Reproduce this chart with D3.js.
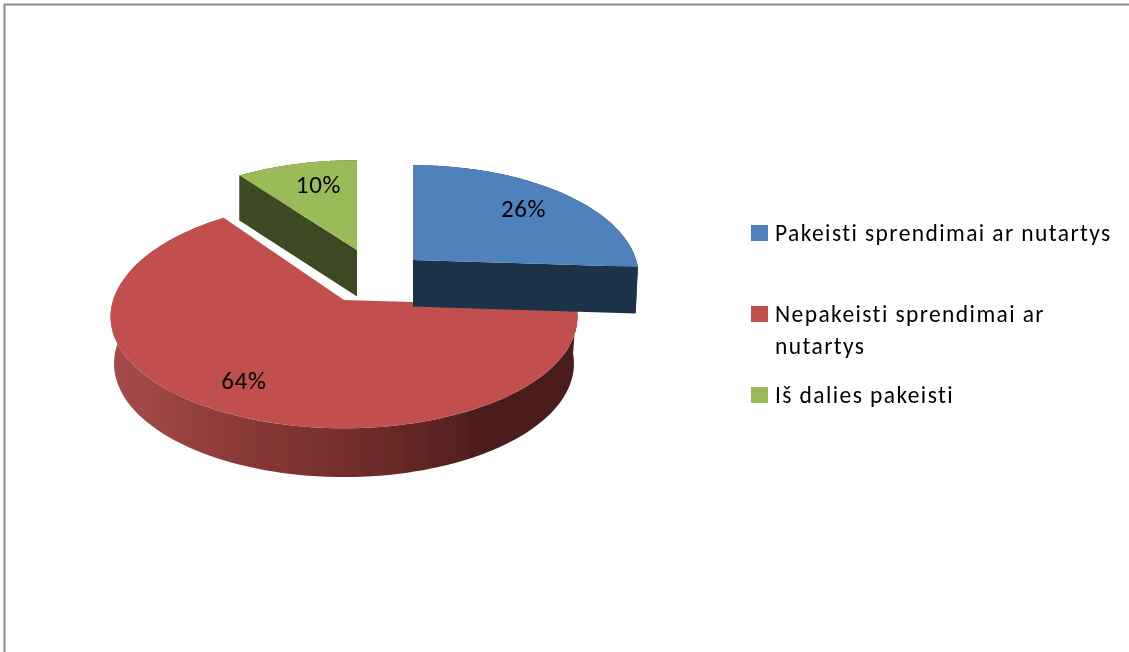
<!DOCTYPE html>
<html><head><meta charset="utf-8">
<script src="https://cdn.jsdelivr.net/npm/d3@7"></script>
<style>html,body{margin:0;padding:0;background:#fff;overflow:hidden}svg{display:block}text{font-family:Carlito,Lato,"Open Sans",sans-serif;fill:#000}</style>
</head><body><svg id="c" width="1129" height="652"></svg>
<script>
const categories = ["Pakeisti sprendimai ar nutartys","Nepakeisti sprendimai ar nutartys","Iš dalies pakeisti"];
const values = [26,64,10];
const valueLabels = ["26%","64%","10%"];
const topColors = ["#4f81bd","#c0504d","#9bbb59"];
const wallColors = ["#1c3149","#4c1d1b","#3e4a20"];
const legendLines = [["Pakeisti sprendimai ar nutartys"],["Nepakeisti sprendimai ar","nutartys"],["Iš dalies pakeisti"]];

const W=1129,H=652;
const svg=d3.select("#c");
const defs=svg.append("defs");
defs.append("filter").attr("id","soft").attr("x","-5%").attr("y","-5%").attr("width","110%").attr("height","110%")
  .append("feGaussianBlur").attr("stdDeviation",.45);
svg.append("path").attr("d",`M4.5,${H}V4.5H${W}`).attr("fill","none").attr("stroke","#8c8c8c").attr("stroke-width",2);
const root=svg.append("g").attr("filter","url(#soft)");

// layout of the exploded slices (style)
const apex=[
  {x:413,y:260,kx:.962,k:1,back:1,t:.7,lx:0,ly:-2,taper:.99},
  {x:344,y:300,kx:.995,k:1,back:1.05,t:.78,lx:-3,ly:-2,taper:.985},
  {x:357,y:250,kx:1,k:.96,back:.98,t:.7,lx:7,ly:1,taper:1}];
const R=232,Ry=109,persp=.15,depth=46.5;
const project=(a,r,cen)=>{
  const X=Math.sin(a)*r*cen.k*cen.kx;
  let Yf=-Math.cos(a)*r*cen.k;
  if(Yf<0) Yf*=cen.back;
  const s=1/(1-persp*Yf);
  return {x:cen.x+R*X*s,y:cen.y+Ry*Yf*s,s};
};
const down=(p,cen)=>({x:cen.x+(p.x-cen.x)*cen.taper,y:p.y+depth*Math.pow(p.s,.3)});
const line=d3.line().x(d=>d.x).y(d=>d.y);

const arcs=d3.pie().sort(null).startAngle(0).endAngle(2*Math.PI)(values);
const grad=defs.append("linearGradient").attr("id","redWall").attr("gradientUnits","userSpaceOnUse")
  .attr("x1",apex[1].x-R).attr("x2",apex[1].x+R).attr("y1",0).attr("y2",0);
[[0,"#a64c4a"],[.35,"#843533"],[.6,"#6a2a28"],[.8,"#4c1d1b"],[1,"#4c1d1b"]].forEach(s=>grad.append("stop").attr("offset",s[0]).attr("stop-color",s[1]));

const slices=arcs.map((d,i)=>{
  const angles=d3.range(0,121).map(j=>d.startAngle+(d.endAngle-d.startAngle)*j/120);
  const rim=angles.map(a=>project(a,1,apex[i]));
  return {d,i,rim,cen:apex[i]};
});
[2,1,0].forEach(i=>{
  const s=slices[i];
  const g=root.append("g");
  const cen=s.cen;
  const wall=s.rim.concat(s.rim.slice().reverse().map(p=>down(p,cen)));
  g.append("path").attr("d",line(wall)+"Z").attr("fill",i===1?"url(#redWall)":wallColors[i]);
  if(i!==1){ // red cut faces look away from the viewer
    [s.rim[0],s.rim[s.rim.length-1]].forEach(p=>{
      const c={x:cen.x,y:cen.y,s:1};
      g.append("path").attr("d",line([c,p,down(p,cen),down(c,cen)])+"Z").attr("fill",wallColors[i]);
    });
  }
  g.append("path").attr("d",line([cen].concat(s.rim))+"Z").attr("fill",topColors[i]);
});
slices.forEach(s=>{
  const mid=(s.d.startAngle+s.d.endAngle)/2;
  const p=project(mid,s.cen.t,{...s.cen,kx:1,k:1,back:1});
  root.append("text").attr("x",p.x+s.cen.lx).attr("y",p.y+8+s.cen.ly).attr("text-anchor","middle")
    .attr("font-size",25).attr("letter-spacing",.6).text(valueLabels[s.i]);
});

// legend
const legendY=[233,314,395];
const lg=root.append("g");
categories.forEach((c,i)=>{
  lg.append("rect").attr("x",751).attr("y",legendY[i]-8).attr("width",17).attr("height",16).attr("fill",topColors[i]);
  legendLines[i].forEach((t,j)=>{
    lg.append("text").attr("x",775).attr("y",legendY[i]+8+j*32).attr("font-size",23.5).attr("letter-spacing",1.4).text(t);
  });
});
</script></body></html>
